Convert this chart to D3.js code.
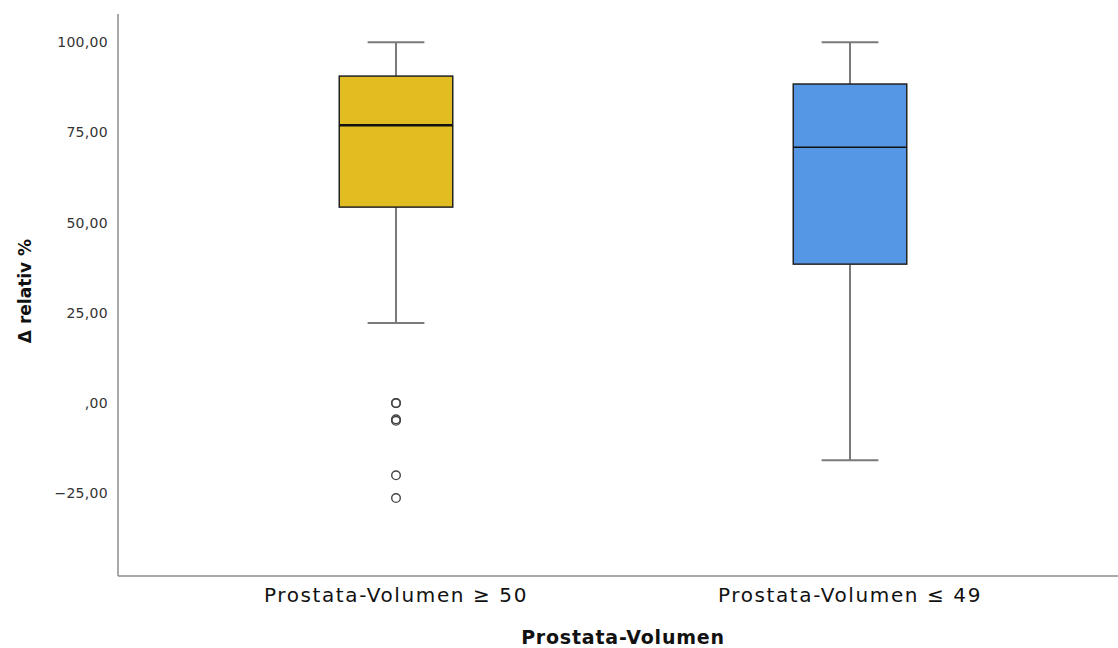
<!DOCTYPE html>
<html>
<head>
<meta charset="utf-8">
<script src="https://cdn.jsdelivr.net/npm/d3@7"></script>
<style>
  body { margin: 0; background: #fff; }
  svg { display: block; }
</style>
</head>
<body>
<svg id="chart" width="1118" height="648"></svg>
<script>
// data
const groups   = ["Prostata-Volumen ≥ 50", "Prostata-Volumen ≤ 49"];
const colors   = ["#E1BD22", "#5596E5"];
const whiskLo  = [22.2, -15.8];
const q1       = [54.3, 38.5];
const median   = [77.0, 70.9];
const q3       = [90.6, 88.4];
const whiskHi  = [100, 100];
const outliers = [[0, 0, -4.5, -4.9, -20.0, -26.3], []];
const yTicks   = [-25, 0, 25, 50, 75, 100];

const svg = d3.select("#chart");
const mL = 118, mR = 1118, mT = 14, mB = 576;

const x = d3.scaleBand().domain(groups).range([169, 1077]).paddingInner(0.75).paddingOuter(0.375);
const y = d3.scaleLinear().domain([-47.9, 107.8]).range([mB, mT]);

const fmt = v => v === 0 ? ",00" : d3.format(".2f")(v).replace(".", ",");

// axes
svg.append("line").attr("x1", mL).attr("x2", mL).attr("y1", mT).attr("y2", mB)
  .attr("stroke", "#8c8c8c").attr("stroke-width", 1.5);
svg.append("line").attr("x1", mL).attr("x2", mR).attr("y1", mB).attr("y2", mB)
  .attr("stroke", "#8c8c8c").attr("stroke-width", 1.5);

const yAxis = svg.append("g")
  .attr("transform", `translate(${mL},0)`)
  .call(d3.axisLeft(y).tickValues(yTicks).tickSize(0).tickPadding(10).tickFormat(fmt));
yAxis.select(".domain").remove();
yAxis.selectAll("text").attr("font-family", "DejaVu Sans").attr("font-size", 14)
  .attr("letter-spacing", 0.3).attr("fill", "#333");

const xAxis = svg.append("g")
  .attr("transform", `translate(0,${mB})`)
  .call(d3.axisBottom(x).tickSize(0).tickPadding(12));
xAxis.select(".domain").remove();
xAxis.selectAll("text").attr("font-family", "DejaVu Sans").attr("font-size", 20)
  .attr("letter-spacing", 1.6).attr("fill", "#111");

// titles
svg.append("text").attr("x", 623).attr("y", 644).attr("text-anchor", "middle")
  .attr("font-family", "DejaVu Sans").attr("font-weight", "bold").attr("font-size", 19)
  .attr("letter-spacing", 0.8).attr("fill", "#111").text("Prostata-Volumen");
svg.append("text").attr("transform", "translate(31,291) rotate(-90)").attr("text-anchor", "middle")
  .attr("font-family", "DejaVu Sans").attr("font-weight", "bold").attr("font-size", 17)
  .attr("fill", "#111").text("Δ relativ %");

// boxes
groups.forEach((g, i) => {
  const x0 = x(g), w = x.bandwidth(), cx = x0 + w / 2;
  const gg = svg.append("g");
  const wc = "#7a7a7a";
  gg.append("line").attr("x1", cx).attr("x2", cx).attr("y1", y(whiskHi[i])).attr("y2", y(q3[i]))
    .attr("stroke", wc).attr("stroke-width", 2);
  gg.append("line").attr("x1", cx).attr("x2", cx).attr("y1", y(q1[i])).attr("y2", y(whiskLo[i]))
    .attr("stroke", wc).attr("stroke-width", 2);
  [whiskHi[i], whiskLo[i]].forEach(v => {
    gg.append("line").attr("x1", cx - w / 4).attr("x2", cx + w / 4).attr("y1", y(v)).attr("y2", y(v))
      .attr("stroke", wc).attr("stroke-width", 2);
  });
  gg.append("rect").attr("x", x0).attr("width", w).attr("y", y(q3[i])).attr("height", y(q1[i]) - y(q3[i]))
    .attr("fill", colors[i]).attr("stroke", "#222").attr("stroke-width", 1.5);
  gg.append("line").attr("x1", x0).attr("x2", x0 + w).attr("y1", y(median[i])).attr("y2", y(median[i]))
    .attr("stroke", "#111").attr("stroke-width", i === 0 ? 2.5 : 1.5);
  gg.selectAll("circle").data(outliers[i]).join("circle")
    .attr("cx", cx).attr("cy", d => y(d)).attr("r", 4.3)
    .attr("fill", "none").attr("stroke", "#444").attr("stroke-width", 1.4);
});
</script>
</body>
</html>
